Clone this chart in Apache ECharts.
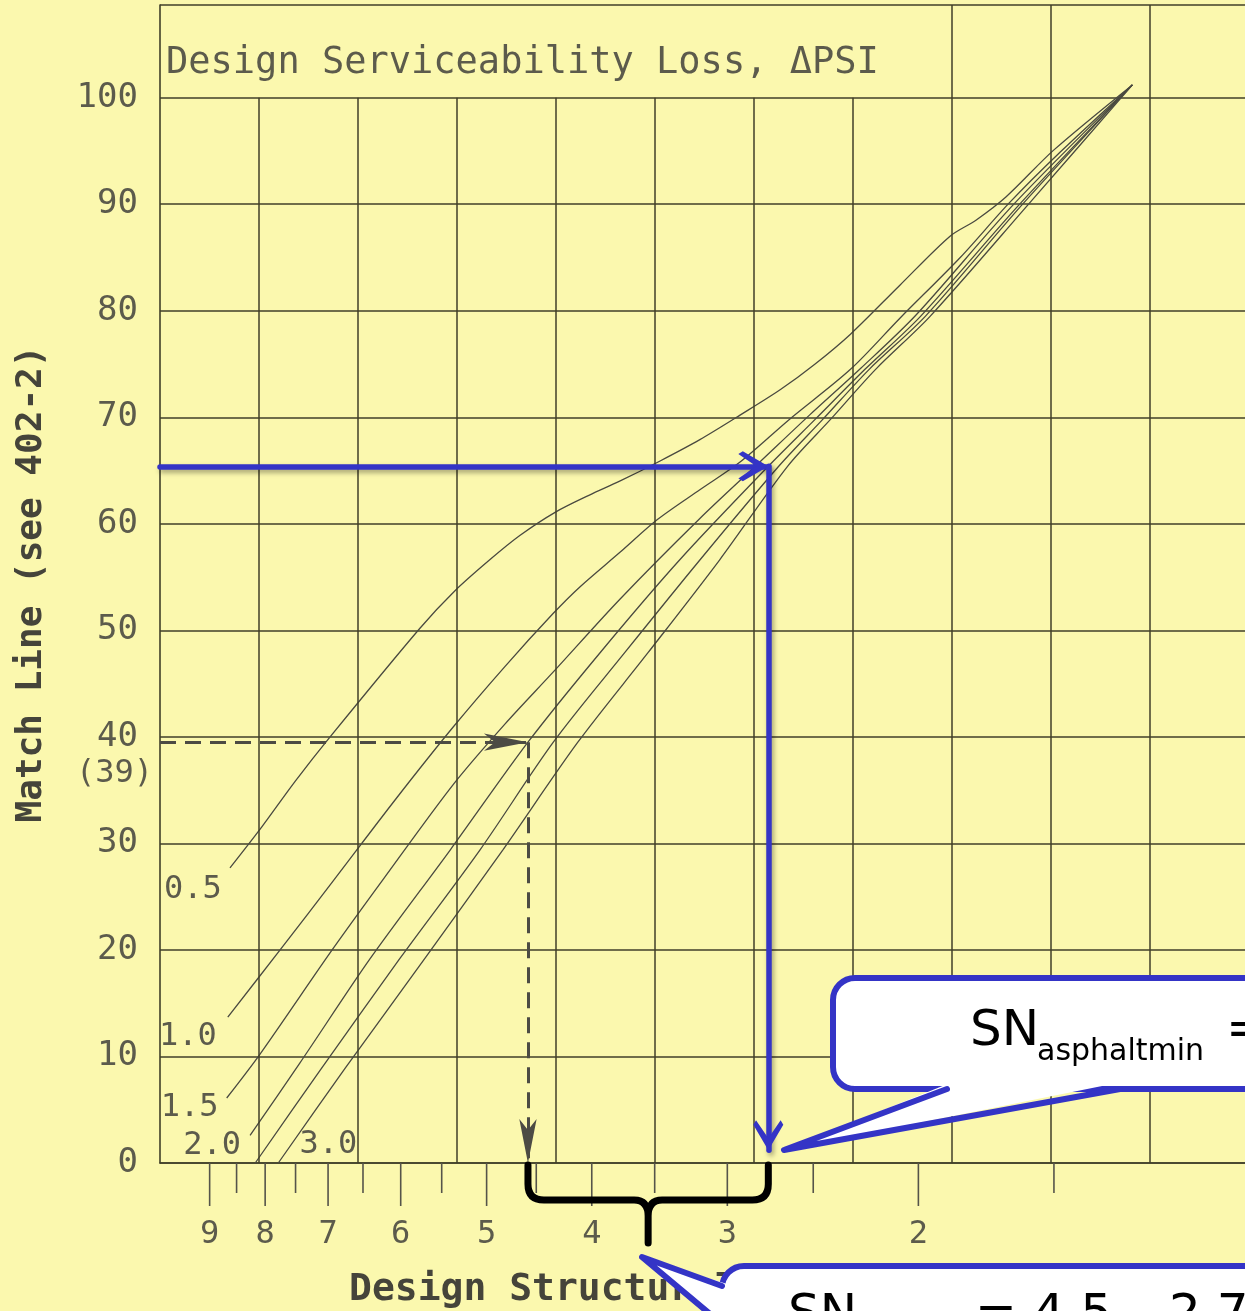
<!DOCTYPE html>
<html>
<head>
<meta charset="utf-8">
<script src="https://cdn.jsdelivr.net/npm/echarts/dist/echarts.min.js"></script>
<style>
html,body{margin:0;padding:0;background:#fbf8ae;}
#c{width:1245px;height:1311px;}
</style>
</head>
<body>
<div id="c"></div>
<script>
// ---------- data ----------
// x = Design Structural Number SN (log scale), y = Match Line value
const psiLabels = ['0.5', '1.0', '1.5', '2.0', '2.5', '3.0'];
const psi05 = [[8.62,27.7],[8.05,31.6],[7.51,35.8],[6.97,40.0],[5.76,50.2],[5.35,53.7],[4.97,56.6],[4.66,58.9],[4.32,61.1],[4.02,62.7],[3.77,64.0],[3.46,65.9],[3.18,67.9],[2.92,70.2],[2.68,72.6],[2.49,75.0],[2.31,77.8],[2.08,82.4],[1.87,87.0],[1.77,88.5],[1.66,90.7],[1.50,95.1],[1.27,101.2]];
const psi10 = [[8.66,13.7],[7.75,20.0],[6.91,26.6],[6.07,34.1],[5.37,40.9],[4.81,46.6],[4.34,51.6],[4.10,54.1],[3.77,57.3],[3.48,60.4],[3.18,63.2],[2.92,65.8],[2.63,69.8],[2.31,74.5],[2.08,79.3],[1.83,85.0],[1.65,90.1],[1.48,94.9],[1.27,101.2]];
const psi15 = [[8.68,6.1],[8.09,10.2],[6.94,20.0],[6.23,26.6],[5.37,35.5],[4.81,41.2],[4.34,46.1],[3.77,52.9],[3.18,60.5],[2.80,65.8],[2.52,70.2],[2.26,74.6],[2.01,79.6],[1.63,90.1],[1.27,101.2]];
const psi20 = [[8.26,2.6],[7.43,9.4],[6.40,19.2],[5.40,29.4],[4.58,39.5],[3.93,47.9],[3.32,56.6],[2.75,65.4],[2.49,69.8],[2.24,74.5],[1.99,79.5],[1.61,90.1],[1.27,101.2]];
const psi25 = [[8.17,0],[7.12,8.7],[6.01,19.2],[5.07,29.4],[4.34,39.5],[3.73,47.9],[3.18,56.6],[2.69,65.4],[2.45,69.8],[2.22,74.5],[1.97,79.5],[1.60,90.1],[1.27,101.2]];
const psi30 = [[7.78,0],[6.75,8.9],[5.70,19.2],[4.83,29.4],[4.12,39.5],[3.55,47.9],[3.05,56.6],[2.64,65.4],[2.41,69.8],[2.19,74.5],[1.95,79.5],[1.58,90.1],[1.27,101.2]];
const curves = [psi05, psi10, psi15, psi20, psi25, psi30];

const snMajorTicks = [2, 3, 4, 5, 6, 7, 8, 9];
const snMinorTicks = [1.5, 2.5, 3.5, 4.5, 5.5, 6.5, 7.5, 8.5];
const gridColumns = [1, 2, 3, 4, 5, 6, 7, 8, 9, 10];
const tallColumns = [8, 9, 10];
const dashedPath = [[10, 39.5], [4.58, 39.5], [4.58, 0]];
const bluePath = [[10, 65.4], [2.75, 65.4], [2.75, 1.2]];

// ---------- styling ----------
const MONO = '"DejaVu Sans Mono", monospace';
const SANS = '"DejaVu Sans", sans-serif';
const GRID_COLOR = '#403f28';
const INK = '#4a4a40';
const LABEL_INK = '#5c5b4c';
const BLUE = '#3434c6';
const Y_TOP = 108.7;
const COL_MAX = 10.96;
const labelOffsets = [[-37, 22], [-40, 20], [-37, 10], [-38, 10], null, [50, -18]];
const chevron = 'path://M50,0 L100,85 L91,100 L50,40 L9,100 L0,85 Z';

const chart = echarts.init(document.getElementById('c'), null, {renderer: 'canvas', width: 1245, height: 1311});

const curveSeries = curves.map((c, i) => ({
  name: 'ΔPSI ' + psiLabels[i],
  type: 'line',
  xAxisIndex: 0, yAxisIndex: 0,
  data: c,
  smooth: 0.3,
  showSymbol: false,
  symbol: 'none',
  silent: true,
  z: 3,
  lineStyle: {color: INK, width: 1.3}
}));

const option = {
  animation: false,
  backgroundColor: '#fbf8ae',
  grid: {left: 160, right: 0, top: 5, bottom: 148, outerBoundsMode: 'none'},
  title: [
    {text: 'Design Serviceability Loss, ΔPSI', left: 166, top: 45, padding: 0,
     textStyle: {fontFamily: MONO, fontSize: 37, fontWeight: 'normal', color: LABEL_INK}},
    {text: 'Design Structural Number, SN', left: 349, top: 1271, padding: 0,
     textStyle: {fontFamily: MONO, fontSize: 38, fontWeight: 'bold', color: '#45443a'}}
  ],
  xAxis: [
    {type: 'log', logBase: 10, min: 1, max: 10, inverse: true, position: 'bottom',
     axisLine: {show: true, onZero: false, lineStyle: {color: GRID_COLOR, width: 1.6}},
     axisTick: {show: false}, axisLabel: {show: false}, splitLine: {show: false}},
    {type: 'value', min: 0, max: COL_MAX, show: false}
  ],
  yAxis: [{
    type: 'value', min: 0, max: Y_TOP, interval: 10,
    name: 'Match Line (see 402-2)', nameLocation: 'middle', nameGap: 110, nameRotate: 90,
    nameTextStyle: {fontFamily: MONO, fontSize: 36, fontWeight: 'bold', color: '#45443a'},
    axisLine: {show: true, onZero: false, lineStyle: {color: GRID_COLOR, width: 1.6}},
    axisTick: {show: false},
    axisLabel: {margin: 22, fontFamily: MONO, fontSize: 34, color: LABEL_INK,
      formatter: v => (v <= 100 ? String(v) : '')},
    splitLine: {show: true, lineStyle: {color: GRID_COLOR, width: 1.5}}
  }],
  series: [
    {
      name: 'columns', type: 'line', xAxisIndex: 1, yAxisIndex: 0, data: [], silent: true, z: 1,
      markLine: {
        silent: true, symbol: ['none', 'none'], label: {show: false}, animation: false,
        lineStyle: {color: GRID_COLOR, width: 1.5, type: 'solid'},
        emphasis: {disabled: true},
        data: gridColumns.map(k => [{coord: [k, 0]}, {coord: [k, tallColumns.includes(k) ? Y_TOP : 100]}])
      }
    },
    ...curveSeries,
    {
      name: 'snTicks', type: 'custom', xAxisIndex: 0, yAxisIndex: 0, clip: false, silent: true, z: 5,
      data: snMajorTicks.map(v => [v, 0, 1]).concat(snMinorTicks.map(v => [v, 0, 0])),
      encode: {x: 0, y: 1},
      renderItem: (params, api) => {
        const v = api.value(0);
        const major = api.value(2) === 1;
        const p = api.coord([v, 0]);
        const len = major ? 43 : 30;
        const children = [{type: 'line', shape: {x1: p[0], y1: p[1], x2: p[0], y2: p[1] + len},
          style: {stroke: '#55544a', lineWidth: 1.6}}];
        if (major) {
          children.push({type: 'text', x: p[0], y: p[1] + 72,
            style: {text: String(v), font: '32px ' + MONO, fill: LABEL_INK, align: 'center', verticalAlign: 'middle'}});
        }
        return {type: 'group', children: children};
      }
    },
    {
      name: 'curveLabels', type: 'custom', xAxisIndex: 0, yAxisIndex: 0, clip: false, silent: true, z: 5,
      data: curves.map((c, i) => [c[0][0], c[0][1], i]),
      encode: {x: 0, y: 1},
      renderItem: (params, api) => {
        const i = api.value(2);
        const off = labelOffsets[i];
        if (!off) return null;
        const p = api.coord([api.value(0), api.value(1)]);
        return {type: 'text', x: p[0] + off[0], y: p[1] + off[1],
          style: {text: psiLabels[i], font: '32px ' + MONO, fill: LABEL_INK, align: 'center', verticalAlign: 'middle'}};
      }
    },
    {
      name: 'example', type: 'line', xAxisIndex: 0, yAxisIndex: 0, data: [], silent: true, z: 6,
      markLine: {
        silent: true, animation: false, label: {show: false}, emphasis: {disabled: true},
        symbol: ['none', 'arrow'], symbolSize: [13, 44],
        lineStyle: {color: '#4c4b44', width: 3, type: [16, 9]},
        data: [
          [{coord: dashedPath[0]}, {coord: dashedPath[1]}],
          [{coord: dashedPath[1]}, {coord: dashedPath[2]}]
        ]
      }
    },
    {
      name: 'design', type: 'line', xAxisIndex: 0, yAxisIndex: 0, data: [], silent: true, z: 8,
      markLine: {
        silent: true, animation: false, label: {show: false}, emphasis: {disabled: true},
        symbol: ['none', chevron], symbolSize: [30, 30], symbolOffset: [[0, 0], [0, '50%']],
        lineStyle: {color: BLUE, width: 5.5, type: 'solid', cap: 'round',
          shadowBlur: 5, shadowColor: 'rgba(0,0,0,0.35)', shadowOffsetX: 2, shadowOffsetY: 3},
        data: [
          [{coord: bluePath[0]}, {coord: bluePath[1]}],
          [{coord: bluePath[1]}, {coord: bluePath[2]}]
        ]
      }
    },
    {
      name: 'brace', type: 'custom', xAxisIndex: 0, yAxisIndex: 0, clip: false, silent: true, z: 30,
      data: [[dashedPath[1][0], bluePath[1][0], 0]],
      encode: {x: [0, 1], y: 2},
      renderItem: (params, api) => {
        const a = api.coord([api.value(0), api.value(2)]);
        const b = api.coord([api.value(1), api.value(2)]);
        const x0 = a[0], x1 = b[0], y0 = a[1], xm = (x0 + x1) / 2;
        const bar = y0 + 37, tip = y0 + 80;
        const d =
          `M${x0},${y0 + 2} L${x0},${bar - 16} Q${x0},${bar} ${x0 + 16},${bar} L${xm - 14},${bar} ` +
          `Q${xm},${bar} ${xm},${bar + 16} L${xm},${tip} M${xm},${bar + 16} Q${xm},${bar} ${xm + 14},${bar} ` +
          `L${x1 - 16},${bar} Q${x1},${bar} ${x1},${bar - 16} L${x1},${y0 + 2}`;
        return {type: 'path', shape: {pathData: d},
          style: {fill: 'none', stroke: '#000', lineWidth: 7, lineCap: 'round', lineJoin: 'round'}};
      }
    }
  ]
};
chart.setOption(option);

// ---------- text annotation and call-out boxes ----------
const p40 = chart.convertToPixel({xAxisIndex: 0, yAxisIndex: 0}, [10, 40]);

chart.setOption({
  graphic: [
    {type: 'text', z: 20, x: 153, y: p40[1] + 37,
     style: {text: '(39)', font: '32px ' + MONO, fill: LABEL_INK, align: 'right', verticalAlign: 'middle'}},
    // callout 1
    {type: 'rect', z: 40, shape: {x: 833, y: 978, width: 520, height: 111, r: 22},
     style: {fill: '#fff', stroke: BLUE, lineWidth: 6}},
    {type: 'polygon', z: 41, shape: {points: [[950, 1083], [784, 1150], [1117, 1083]]},
     style: {fill: '#fff'}},
    {type: 'polyline', z: 42, shape: {points: [[947, 1089], [784, 1150], [1120, 1089]]},
     style: {fill: null, stroke: BLUE, lineWidth: 6, lineJoin: 'round', lineCap: 'round'}},
    {type: 'text', z: 43, x: 970, y: 1032,
     style: {text: 'SN', font: '50px ' + SANS, fill: '#000', verticalAlign: 'middle'}},
    {type: 'text', z: 43, x: 1037, y: 1052,
     style: {text: 'asphaltmin', font: '30px ' + SANS, fill: '#000', verticalAlign: 'middle'}},
    {type: 'text', z: 43, x: 1226, y: 1032,
     style: {text: '= 2.7', font: '50px ' + SANS, fill: '#000', verticalAlign: 'middle'}},
    // callout 2
    {type: 'rect', z: 40, shape: {x: 722, y: 1266, width: 560, height: 120, r: 22},
     style: {fill: '#fff', stroke: BLUE, lineWidth: 6}},
    {type: 'polygon', z: 41, shape: {points: [[727, 1284], [642, 1257], [727, 1326]]},
     style: {fill: '#fff'}},
    {type: 'polyline', z: 42, shape: {points: [[722, 1286], [642, 1257], [722, 1324]]},
     style: {fill: null, stroke: BLUE, lineWidth: 6, lineJoin: 'round', lineCap: 'round'}},
    {type: 'text', z: 43, x: 788, y: 1316,
     style: {text: 'SN', font: '50px ' + SANS, fill: '#000', verticalAlign: 'middle'}},
    {type: 'text', z: 43, x: 853, y: 1336,
     style: {text: 'granular', font: '30px ' + SANS, fill: '#000', verticalAlign: 'middle'}},
    {type: 'text', z: 43, x: 975, y: 1316,
     style: {text: '= 4.5 – 2.7 = 1.8', font: '50px ' + SANS, fill: '#000', verticalAlign: 'middle'}}
  ]
});
</script>
</body>
</html>
